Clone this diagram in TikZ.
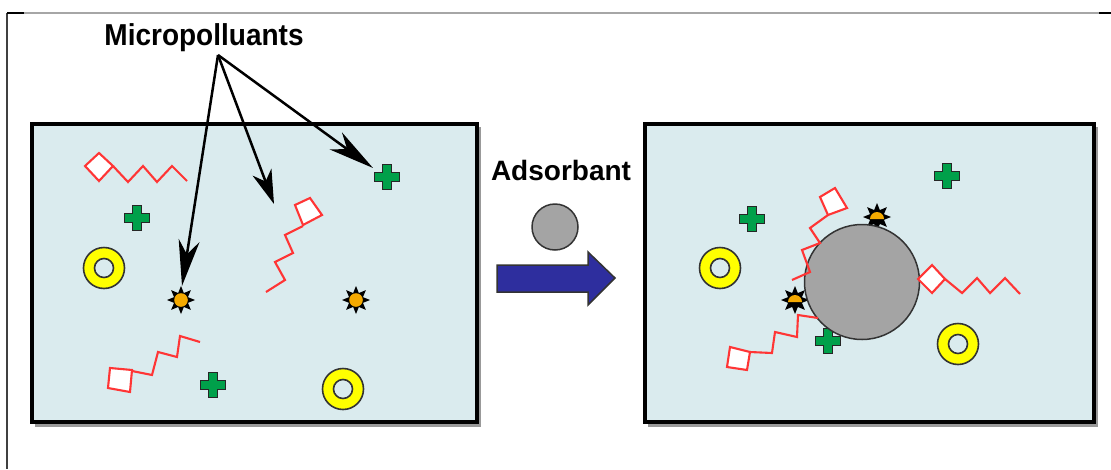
\documentclass[tikz,border=0pt]{standalone}
\usepackage{fontspec}
\setmainfont{Liberation Sans}
\usetikzlibrary{arrows.meta}
\definecolor{bgblue}{HTML}{DAEBEE}
\definecolor{chainred}{HTML}{FF3535}
\definecolor{plusgreen}{HTML}{00A04A}
\definecolor{ringyellow}{HTML}{FFFF00}
\definecolor{starorange}{HTML}{F5AA00}
\definecolor{adsgray}{HTML}{A4A4A4}
\definecolor{arrowblue}{HTML}{2E2E9E}
\tikzset{
  tank/.style={draw=black, line width=4.5pt, fill=bgblue},
  tankshadow/.style={fill=black!40},
  chain/.style={draw=chainred, line width=2.1pt, line join=miter},
  head/.style={chain, fill=white},
  pointer/.style={draw=black, line width=2.5pt, -{Stealth[length=46pt,width=21pt,inset=14pt]}},
  pointershort/.style={draw=black, line width=2.5pt, -{Stealth[length=34pt,width=20pt,inset=10pt]}},
  label/.style={font=\bfseries\fontsize{28}{30}\selectfont, inner sep=0pt},
  plusmark/.pic={
    \fill[plusgreen, draw=black!85, line width=1.6pt]
      (-4.5,-12.5) -- (4.5,-12.5) -- (4.5,-4.5) -- (12.5,-4.5) -- (12.5,4.5) -- (4.5,4.5) -- (4.5,12.5)
      -- (-4.5,12.5) -- (-4.5,4.5) -- (-12.5,4.5) -- (-12.5,-4.5) -- (-4.5,-4.5) -- cycle;
  },
  ringmark/.pic={
    \fill[ringyellow, draw=black!80, line width=1.6pt, even odd rule]
      (0,0) circle (20.5) (0,0) circle (9.5);
  },
  starmark/.pic={
    \fill[black] (0:14) \foreach \a in {1,...,15}{ -- (\a*22.5:{mod(\a,2)==0 ? 14 : 7.5}) } -- cycle;
    \fill[starorange] (0,0) circle (6.8);
  },
  domestar/.pic={
    \fill[black] (0:14) \foreach \a in {1,...,15}{ -- (\a*22.5:{mod(\a,2)==0 ? 14 : 7.5}) } -- cycle;
    \fill[starorange] (-7,2) arc[start angle=180, end angle=360, radius=7] -- cycle;
  },
}
\begin{document}
\begin{tikzpicture}[x=1pt,y=-1pt]
\useasboundingbox (0,0) rectangle (1111,469);

% page frame
\draw[black!35, line width=1.6pt] (7,13) -- (1111,13);
\draw[black!75, line width=2pt] (7,13) -- (7,469);
\draw[black, line width=1.8pt] (7,13) -- (24,13);
\draw[black, line width=1.8pt] (1099,13) -- (1111,13);

% tanks
\fill[tankshadow] (35,127) rectangle (481,427);
\fill[tankshadow] (648,127) rectangle (1098,427);
\draw[tank] (32,124) rectangle (477,422);
\draw[tank] (645,124) rectangle (1094,422);

% ----- left tank contents -----
\draw[head] (85,166) -- (99,153) -- (113,166) -- (99,181) -- cycle;
\draw[chain] (113,166) -- (128,182) -- (143,166) -- (157,182) -- (172,166) -- (187,181);

\draw[head] (295,205) -- (310,198) -- (322,215) -- (303,225) -- cycle;
\draw[chain] (303,226) -- (285,235) -- (293,253) -- (275,262) -- (285,280) -- (266,292);

\draw[head] (110,368) -- (132,370) -- (130,392) -- (108,388) -- cycle;
\draw[chain] (132,371) -- (152,375) -- (158,352) -- (177,357) -- (180,336) -- (200,342);

\pic at (137,218) {plusmark};
\pic at (387,177) {plusmark};
\pic at (213,385) {plusmark};
\pic at (104,268) {ringmark};
\pic at (343,389) {ringmark};
\pic at (181,300) {starmark};
\pic at (356,300) {starmark};

% targets of the pointers
\coordinate (tstar) at (182,286);
\coordinate (tchain) at (274,204);
\coordinate (tplus) at (373,168);

% label and pointers
\node[label, yscale=1.08] (mp) at (204,38) {Micropolluants};
\coordinate (mpo) at (218,55);
\draw[pointer] (mpo) -- (tstar);
\draw[pointershort] (mpo) -- (tchain);
\draw[pointer] (mpo) -- (tplus);

% ----- middle -----
\node[label] (adsl) at (561,170) {Adsorbant};
\node[circle, draw=black!80, line width=1.5pt, fill=adsgray, minimum size=46pt, inner sep=0pt] (ads0) at (555,227) {};
\draw[fill=arrowblue, draw=black!80, line width=1.5pt]
  (497,265) -- (588,265) -- (588,252) -- (615,278) -- (588,305) -- (588,292) -- (497,292) -- cycle;

% ----- right tank contents -----
\pic at (947,176) {plusmark};
\pic at (752,219) {plusmark};
\pic at (828,341) {plusmark};
\pic at (720,268) {ringmark};
\pic at (958,344) {ringmark};
\pic at (877,217) {domestar};
\pic at (795,300) {domestar};

\node[circle, draw=black!80, line width=1.5pt, fill=adsgray, minimum size=115pt, inner sep=0pt] (ads) at (862,282) {};

\draw[head] (820,197) -- (835,188) -- (847,208) -- (828,215) -- cycle;
\draw[chain] (828,215) -- (810,228) -- (820,243) -- (802,250) -- (810,272) -- (792,280);

\draw[head] (918,279) -- (932,265) -- (945,279) -- (932,293) -- cycle;
\draw[chain] (945,279) -- (962,293) -- (977,278) -- (990,293) -- (1005,278) -- (1020,294);

\draw[head] (730,347) -- (750,352) -- (747,370) -- (727,367) -- cycle;
\draw[chain] (750,352) -- (772,353) -- (775,332) -- (797,337) -- (798,315) -- (818,318);

\end{tikzpicture}
\end{document}
